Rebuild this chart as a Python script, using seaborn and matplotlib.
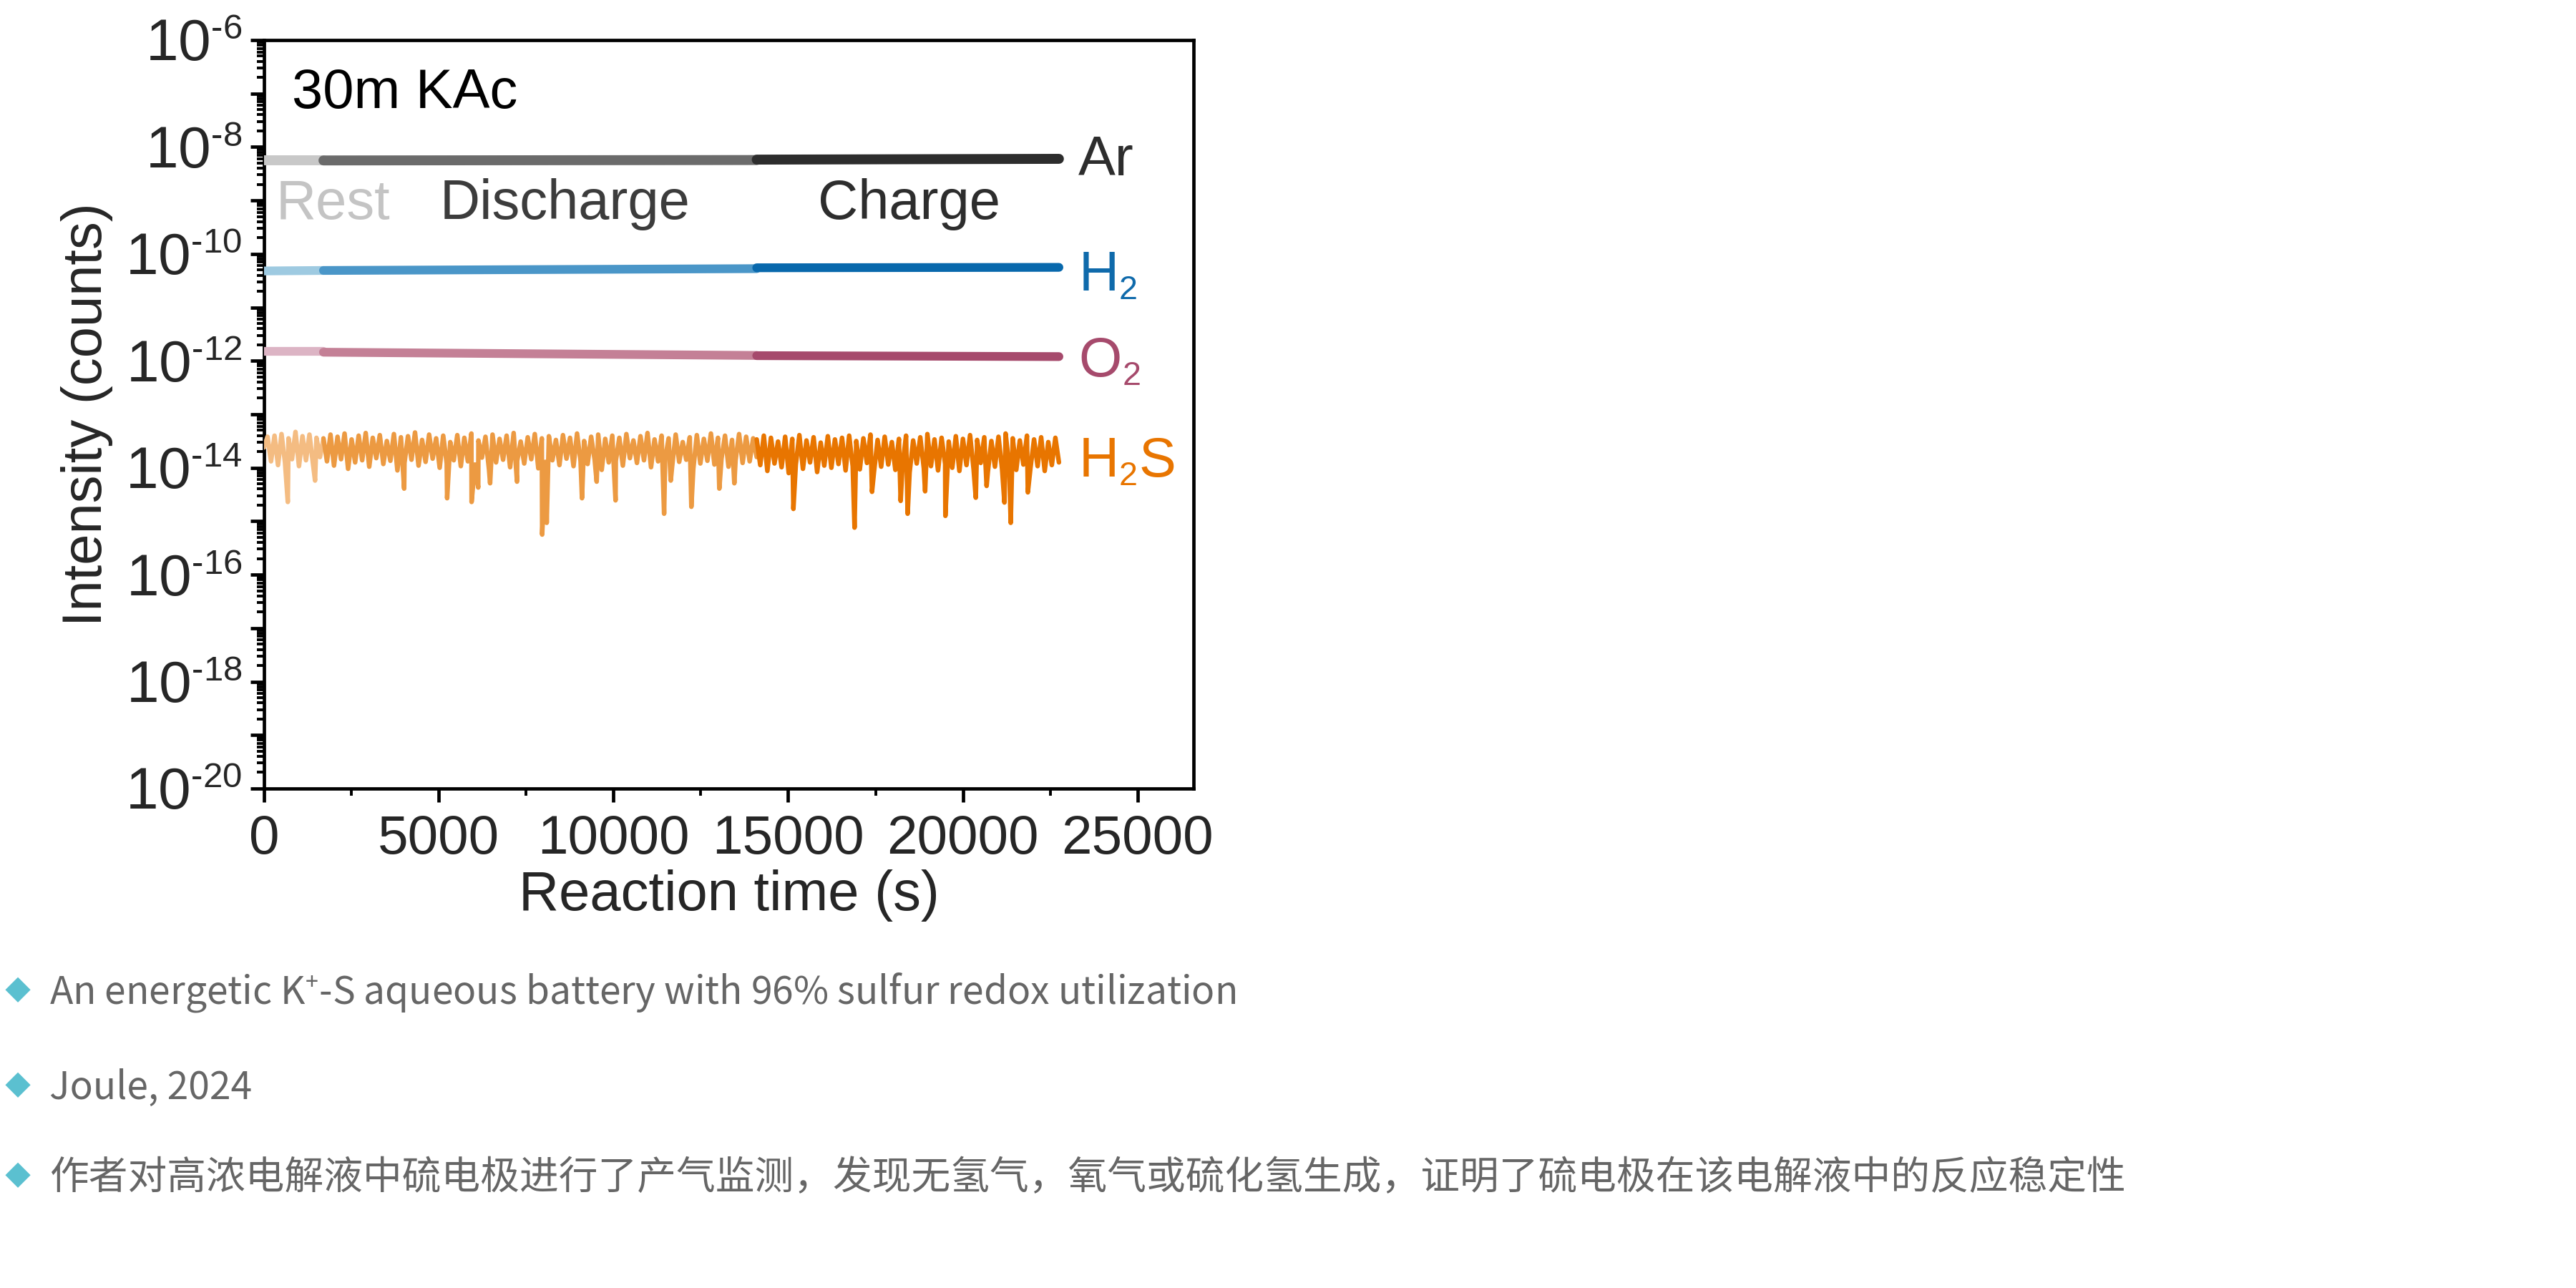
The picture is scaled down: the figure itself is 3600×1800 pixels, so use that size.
"""Gas evolution (DEMS) of sulfur electrode in 30m KAc - recreated figure"""
import numpy as np
import matplotlib
matplotlib.use('Agg')
import matplotlib.pyplot as plt
import matplotlib._mathtext as mt
import seaborn as sns
from matplotlib.ticker import LogLocator, FuncFormatter, MultipleLocator

# smaller super/subscripts, closer to the original figure
mt.SHRINK_FACTOR = 0.6

# ---- data ----
phases = ['Rest', 'Discharge', 'Charge']
phase_bounds = [(0, 1700), (1700, 14100), (14100, 22750)]

# flat gases: value at start / end of each phase
ar_vals = [[5.6e-9, 5.6e-9], [5.6e-9, 5.7e-9], [5.8e-9, 6.0e-9]]
h2_vals = [[4.8e-11, 4.9e-11], [4.9e-11, 5.3e-11], [5.5e-11, 5.6e-11]]
o2_vals = [[1.5e-12, 1.5e-12], [1.45e-12, 1.26e-12], [1.25e-12, 1.2e-12]]

# H2S noisy trace, log10 values sampled along each phase
h2s_rest = [-13.62, -13.42, -13.88, -13.40, -13.95, -13.37, -13.90, -13.45, -13.84,
            -13.33, -13.97, -13.41, -13.86, -13.38, -13.92, -13.44, -13.80, -13.47]
h2s_dis = [-13.45, -13.88, -13.38, -13.96, -13.42, -13.84, -13.36, -14.02, -13.47, -13.90, -13.40, -13.86,
           -13.35, -13.98, -13.44, -13.82, -13.39, -13.93, -13.50, -13.87, -13.37, -14.05, -13.43, -13.91,
           -13.41, -13.85, -13.34, -13.96, -13.48, -13.89, -13.38, -13.83, -13.45, -14.00, -13.40, -13.92,
           -13.52, -13.86, -13.39, -13.97, -13.44, -13.88, -13.36, -13.94, -13.49, -13.81, -13.42, -14.03,
           -13.38, -13.90, -13.46, -13.85, -13.40, -13.99, -13.35, -13.87, -13.51, -13.92, -13.43, -13.84,
           -13.37, -14.01, -13.45, -13.89, -13.41, -13.86, -13.48, -13.95, -13.39, -13.83, -13.44, -13.97,
           -13.36, -13.88, -13.50, -13.93, -13.42, -13.85, -13.38, -14.04, -13.46, -13.90, -13.40, -13.87,
           -13.44, -13.96, -13.37, -13.82, -13.49, -13.91, -13.41, -13.86, -13.35, -13.99, -13.47, -13.88,
           -13.40, -13.84, -13.45, -13.97, -13.38, -13.89, -13.52, -13.85, -13.43, -14.02, -13.39, -13.92,
           -13.46, -13.87, -13.36, -13.94, -13.44, -13.83, -13.40, -13.98, -13.48, -13.86, -13.37, -13.91,
           -13.42, -13.88, -13.45, -13.80]
h2s_chg = [-13.47, -13.95, -13.40, -14.06, -13.44, -13.92, -13.51, -13.99, -13.42, -14.10, -13.46, -13.94,
           -13.39, -14.02, -13.49, -13.90, -13.43, -14.08, -13.53, -13.96, -13.41, -14.00, -13.47, -13.93,
           -13.44, -14.05, -13.40, -13.97, -13.50, -14.03, -13.45, -13.91, -13.38, -14.07, -13.48, -13.98,
           -13.42, -13.94, -13.52, -14.04, -13.46, -13.96, -13.40, -14.09, -13.49, -13.92, -13.43, -14.01,
           -13.37, -13.97, -13.47, -14.05, -13.44, -13.93, -13.51, -14.00, -13.41, -14.06, -13.46, -13.95,
           -13.39, -14.03, -13.48, -13.91, -13.43, -14.08, -13.50, -13.98, -13.42, -14.02, -13.36, -13.96,
           -13.45, -14.04, -13.49, -13.94, -13.40, -14.00, -13.47, -13.97, -13.43, -14.06, -13.52, -13.95,
           -13.44, -13.90]
# downward spikes (time s, log10 value)
spike_t = [680, 1460, 4010, 5240, 5940, 6130, 6470, 7240, 7960, 8090, 9100, 9520, 10060,
           11450, 11640, 12230, 13030, 13460, 15150, 16900, 17400, 18220, 18420, 18920,
           19500, 20370, 20680, 21190, 21370, 21860]
spike_v = [-14.64, -14.24, -14.39, -14.57, -14.64, -14.37, -14.29, -14.26, -15.25, -15.03, -14.57, -14.26, -14.61,
           -14.86, -14.24, -14.73, -14.39, -14.29, -14.77, -15.12, -14.45, -14.62, -14.86, -14.44,
           -14.90, -14.56, -14.34, -14.65, -15.03, -14.46]

colors = {
    'Ar':  ['#c8c8c8', '#6b6b6b', '#2d2d2d'],
    'H2':  ['#9ecae1', '#4a96c8', '#0868ac'],
    'O2':  ['#dcb4c4', '#c48096', '#a64a6c'],
    'H2S': ['#f4bc82', '#ec9a42', '#e87500'],
}

# ---- style ----
sns.set_theme(style='ticks')
plt.rcParams['font.family'] = ['Liberation Sans', 'DejaVu Sans']
plt.rcParams['mathtext.fontset'] = 'custom'
plt.rcParams['mathtext.rm'] = 'Liberation Sans'
plt.rcParams['mathtext.it'] = 'Liberation Sans:italic'
plt.rcParams['mathtext.bf'] = 'Liberation Sans:bold'

fig = plt.figure(figsize=(18, 9), dpi=200)
ax = fig.add_axes([0.1025, 0.3878, 0.3608, 0.5811])
ax.set_yscale('log')

# flat gases
for name, vals, lw in [('Ar', ar_vals, 5.0), ('H2', h2_vals, 4.4), ('O2', o2_vals, 4.4)]:
    for i, (t0, t1) in enumerate(phase_bounds):
        sns.lineplot(x=[t0, t1], y=vals[i], color=colors[name][i], lw=lw,
                     solid_capstyle='round', ax=ax, zorder=3 + i)

# H2S noisy trace
seg_vals = [h2s_rest, h2s_dis, h2s_chg]
for i, (t0, t1) in enumerate(phase_bounds):
    t = list(np.linspace(t0, t1, len(seg_vals[i])))
    v = list(seg_vals[i])
    for st, sv in zip(spike_t, spike_v):
        if t0 < st < t1:
            t.append(st)
            v.append(sv)
    order = np.argsort(t)
    t = np.array(t)[order]
    v = 10.0 ** np.array(v)[order]
    sns.lineplot(x=t, y=v, color=colors['H2S'][i], lw=2.3, sort=False,
                 estimator=None, ax=ax, zorder=3 + i)

# ---- axes ----
ax.set_xlim(0, 26600)
ax.set_ylim(1e-20, 1e-6)
ax.xaxis.set_major_locator(MultipleLocator(5000))
ax.xaxis.set_minor_locator(MultipleLocator(2500))
ax.yaxis.set_major_locator(LogLocator(base=10, numticks=30))
ax.yaxis.set_minor_locator(LogLocator(base=10, subs=np.arange(2, 10), numticks=200))


def ylab(val, pos):
    e = int(round(np.log10(val)))
    if e % 2:
        return ''
    return '$\\mathregular{10^{\u2010%d}}$' % abs(e)


ax.yaxis.set_major_formatter(FuncFormatter(ylab))
ax.yaxis.set_minor_formatter(FuncFormatter(lambda v, p: ''))

for s in ax.spines.values():
    s.set_linewidth(1.7)
    s.set_color('black')
ax.tick_params(axis='both', which='major', direction='out', length=7, width=1.7, color='black')
ax.tick_params(axis='both', which='minor', direction='out', length=3.6, width=1.4, color='black')
ax.tick_params(axis='x', labelsize=27.5, pad=6)
ax.tick_params(axis='y', labelsize=29.5, pad=4)
ax.set_xlabel('Reaction time (s)', fontsize=28, labelpad=2)
ax.set_ylabel('Intensity (counts)', fontsize=28, labelpad=6)

# annotations
ax.text(800, 1e-7, '30m KAc', fontsize=28, color='black', va='center', ha='left')
ax.text(350, 8.5e-10, 'Rest', fontsize=28, color='#c4c4c4', va='center', ha='left')
ax.text(5040, 8.5e-10, 'Discharge', fontsize=28, color='#3c3c3c', va='center', ha='left')
ax.text(15850, 8.5e-10, 'Charge', fontsize=28, color='#2d2d2d', va='center', ha='left')

ax.text(23300, 2.95e-9, 'Ar', fontsize=28, color='#2d2d2d', va='baseline', ha='left')
ax.text(23300, 2.0e-11, r'H$_2$', fontsize=28, color='#0f6aab', va='baseline', ha='left')
ax.text(23300, 5.0e-13, r'O$_2$', fontsize=28, color='#a64a6c', va='baseline', ha='left')
ax.text(23300, 6.6e-15, r'H$_2$S', fontsize=28, color='#e87500', va='baseline', ha='left')

# ---- captions below ----
cap_font = ['Noto Sans CJK SC', 'DejaVu Sans']
captions = [
    r'An energetic K$^{\mathregular{+}}$-S aqueous battery with 96% sulfur redox utilization',
    'Joule, 2024',
    '作者对高浓电解液中硫电极进行了产气监测，发现无氢气，氧气或硫化氢生成，证明了硫电极在该电解液中的反应稳定性',
]
cap_size = [19.2, 19.2, 19.7]
cap_y = [1387, 1520, 1646]
for txt, yy, fs in zip(captions, cap_y, cap_size):
    fig.text(25 / 3600, 1 - yy / 1800, '◆', fontsize=13, color='#5bc0d0',
             ha='center', va='center', family=cap_font)
    fig.text(69 / 3600, 1 - yy / 1800, txt, fontsize=fs, color='#666666',
             ha='left', va='center', family=cap_font, fontweight='light')

fig.savefig('out.png', dpi=200, facecolor='white')
plt.close(fig)
